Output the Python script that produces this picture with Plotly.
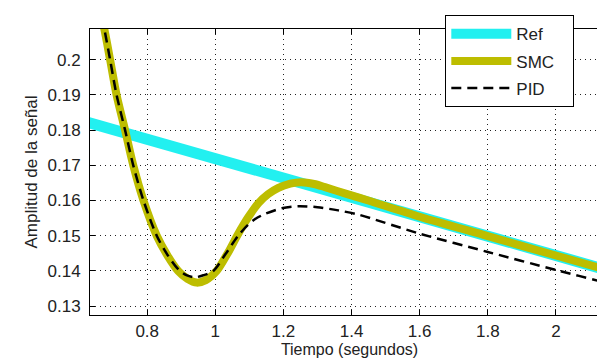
import plotly.graph_objects as go

# ---- data ----
t_ref = [0.60, 0.80, 1.00, 1.20, 1.40, 1.60, 1.80, 2.00, 2.20]
ref = [0.1829, 0.1774, 0.1719, 0.1664, 0.1609, 0.1554, 0.1499, 0.1444, 0.1389]

t_smc = [0.655, 0.674, 0.691, 0.710, 0.735, 0.759, 0.789, 0.828, 0.860, 0.891,
         0.918, 0.945, 0.972, 1.004, 1.035, 1.067, 1.097, 1.126, 1.155, 1.185,
         1.220, 1.253, 1.290, 1.322, 1.385, 1.449, 1.600, 1.800, 2.000, 2.200]
smc = [0.2165, 0.2087, 0.2000, 0.1900, 0.1800, 0.1700, 0.1600, 0.1500, 0.1443, 0.1400,
       0.1378, 0.1367, 0.1374, 0.1400, 0.1448, 0.1505, 0.1553, 0.1592, 0.1618, 0.1636,
       0.1648, 0.1652, 0.1647, 0.1638, 0.1619, 0.1600, 0.1554, 0.1499, 0.1444, 0.1389]

t_pid = [0.655, 0.674, 0.691, 0.710, 0.735, 0.759, 0.789, 0.828, 0.860, 0.891,
         0.915, 0.940, 0.965, 0.994, 1.030, 1.067, 1.097, 1.116, 1.141, 1.195,
         1.244, 1.300, 1.361, 1.420, 1.600, 1.800, 2.000, 2.154, 2.200]
pid = [0.2165, 0.2087, 0.2000, 0.1900, 0.1800, 0.1700, 0.1600, 0.1500, 0.1445, 0.1405,
       0.1388, 0.1382, 0.1388, 0.1400, 0.1448, 0.1500, 0.1532, 0.1547, 0.1560, 0.1578,
       0.1584, 0.1581, 0.1572, 0.1560, 0.1506, 0.1454, 0.1403, 0.1365, 0.1354]

series_names = ["Ref", "SMC", "PID"]

x_ticks = [0.8, 1.0, 1.2, 1.4, 1.6, 1.8, 2.0]
x_tick_text = ["0.8", "1", "1.2", "1.4", "1.6", "1.8", "2"]
y_ticks = [0.13, 0.14, 0.15, 0.16, 0.17, 0.18, 0.19, 0.20]
y_tick_text = ["0.13", "0.14", "0.15", "0.16", "0.17", "0.18", "0.19", "0.2"]

FONT = "Liberation Sans, Arial, sans-serif"
FS = 17
TXT = "#222222"
PAD = "\u00a0\u00a0\u00a0"  # widens the legend box like the reference

fig = go.Figure()
fig.add_trace(go.Scatter(x=t_ref, y=ref, mode="lines", name=series_names[0] + PAD, legendgroup="a",
                         line=dict(color="#22F0F0", width=11)))
fig.add_trace(go.Scatter(x=t_smc, y=smc, mode="lines", name=series_names[1] + PAD, legendgroup="b",
                         line=dict(color="#BDBD00", width=8, shape="spline", smoothing=0.8)))
fig.add_trace(go.Scatter(x=t_pid, y=pid, mode="lines", name=series_names[2] + PAD, legendgroup="c",
                         line=dict(color="black", width=2.5, dash="10px,6px",
                                   shape="spline", smoothing=0.8)))

axis_common = dict(
    showline=True, linecolor="black", linewidth=1, mirror="ticks",
    ticks="inside", ticklen=5, tickcolor="black", tickwidth=1,
    showgrid=True, gridcolor="#222222", gridwidth=1, griddash="1px,4px",
    zeroline=False, automargin=False,
    tickfont=dict(family=FONT, size=FS, color=TXT),
)

fig.update_xaxes(range=[0.632, 2.156], tickvals=x_ticks, ticktext=x_tick_text,
                 ticklabelstandoff=1,
                 title=dict(text="Tiempo (segundos)", font=dict(family=FONT, size=16, color=TXT),
                            standoff=1),
                 **axis_common)
fig.update_yaxes(range=[0.1275, 0.2087], tickvals=y_ticks, ticktext=y_tick_text,
                 ticklabelstandoff=5,
                 title=dict(text="Amplitud de la señal", font=dict(family=FONT, size=FS, color=TXT),
                            standoff=5),
                 **axis_common)

fig.update_layout(
    width=605, height=358,
    margin=dict(l=82, r=4, t=21, b=51, autoexpand=False),
    paper_bgcolor="white", plot_bgcolor="white",
    showlegend=True,
    legend=dict(x=0.6846, y=1.048, xanchor="left", yanchor="top",
                bgcolor="white", bordercolor="black", borderwidth=1,
                font=dict(family=FONT, size=FS, color=TXT),
                tracegroupgap=2, itemwidth=60),
)

fig.write_html("out.html")
